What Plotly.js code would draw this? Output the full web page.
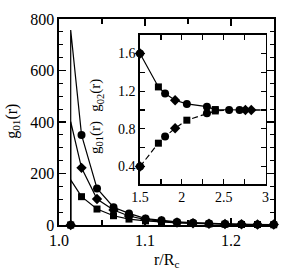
<!DOCTYPE html>
<html><head><meta charset="utf-8">
<script src="https://cdn.plot.ly/plotly-3.0.1.min.js"></script>
<style>html,body{margin:0;padding:0;background:#fff}#c{width:282px;height:274px}</style>
</head><body><div id="c"></div>
<script>
// Main panel: r/Rc positions and g01(r) for the three systems
const r_pts = [1.0136, 1.0262, 1.0442, 1.0634, 1.0814, 1.1006, 1.1192, 1.1372, 1.1558, 1.1744, 1.193, 1.2122, 1.2308, 1.2497];
const g_circle  = [0, 350, 142, 69, 45, 25, 18, 12, 9, 6, 4, 3, 2, 2];
const g_diamond = [0, 222, 101, 58, 35, 21, 15, 10, 7, 5, 4, 3, 2, 2];
const g_square  = [0, 110, 62, 36, 23, 16, 11, 8, 6, 4, 3, 2, 2, 1];
// contact values of the theory curves
const peak_circle = 757, peak_diamond = 401, peak_square = 175;

// Inset: theory lines
const ins_r    = [1.5, 1.72, 1.80, 1.92, 2.06, 2.30, 2.40, 2.56, 2.68, 2.75, 2.83, 3.0];
const g02_line = [1.60, 1.245, 1.175, 1.104, 1.065, 1.035, 1.005, 1.0, 1.0, 1.0, 1.0, 1.0];
const g01_line = [0.40, 0.648, 0.718, 0.807, 0.892, 0.965, 0.99, 1.0, 1.0, 1.0, 1.0, 1.0];
// Inset: symbols
const circ_up_r = [1.5, 1.80, 2.06, 2.30, 2.565, 2.69], circ_up_g = [1.60, 1.175, 1.065, 1.035, 1.0, 1.0];
const circ_lo_r = [1.5, 1.80, 2.30], circ_lo_g = [0.40, 0.718, 0.965];
const diam_up_r = [1.5, 1.92, 2.76, 2.83], diam_up_g = [1.60, 1.104, 1.0, 1.0];
const diam_lo_r = [1.5, 1.92], diam_lo_g = [0.40, 0.807];
const sq_up_r = [1.72, 2.40], sq_up_g = [1.245, 1.005];
const sq_lo_r = [1.72, 2.06, 2.40], sq_lo_g = [0.648, 0.892, 0.99];

const xTicksMain = [1.0, 1.1, 1.2], xTickTextMain = ['1.0', '1.1', '1.2'];
const yTicksMain = [0, 200, 400, 600, 800], yTickTextMain = ['0', '200', '400', '600', '800'];
const xTicksIns = [1.5, 2, 2.5, 3], xTickTextIns = ['1.5', '2', '2.5', '3'];
const yTicksIns = [0.4, 0.8, 1.2, 1.6], yTickTextIns = ['0.4', '0.8', '1.2', '1.6'];

const F = 'Times New Roman';
const FA = 'Liberation Serif';
const lineR = [r_pts[0], r_pts[0]].concat(r_pts.slice(1));
function theory(vals, peak){ return [0, peak].concat(vals.slice(1)); }
const lw = 1.2;
const traces = [];
traces.push({x: lineR, y: theory(g_square, peak_square), mode:'lines', line:{color:'#000', width:lw}, xaxis:'x', yaxis:'y', cliponaxis:false});
traces.push({x: lineR, y: theory(g_diamond, peak_diamond), mode:'lines', line:{color:'#000', width:lw}, xaxis:'x', yaxis:'y', cliponaxis:false});
traces.push({x: lineR, y: theory(g_circle, peak_circle), mode:'lines', line:{color:'#000', width:lw}, xaxis:'x', yaxis:'y', cliponaxis:false});
traces.push({x: r_pts, y: g_square, mode:'markers', marker:{symbol:'square', size:7, color:'#000'}, xaxis:'x', yaxis:'y', cliponaxis:false});
traces.push({x: r_pts, y: g_diamond, mode:'markers', marker:{symbol:'diamond', size:8, color:'#000'}, xaxis:'x', yaxis:'y', cliponaxis:false});
traces.push({x: r_pts, y: g_circle, mode:'markers', marker:{symbol:'circle', size:8, color:'#000'}, xaxis:'x', yaxis:'y', cliponaxis:false});

traces.push({x: ins_r, y: g02_line, mode:'lines', line:{color:'#000', width:lw}, xaxis:'x2', yaxis:'y2', cliponaxis:false});
traces.push({x: ins_r, y: g01_line, mode:'lines', line:{color:'#000', width:lw, dash:'6px,3px'}, xaxis:'x2', yaxis:'y2', cliponaxis:false});
const mk = (x, y, s, sz) => ({x, y, mode:'markers', marker:{symbol:s, size:sz, color:'#000'}, xaxis:'x2', yaxis:'y2', cliponaxis:false});
traces.push(mk(sq_up_r, sq_up_g, 'square', 7));
traces.push(mk(sq_lo_r, sq_lo_g, 'square', 7));
traces.push(mk(diam_up_r, diam_up_g, 'diamond', 8));
traces.push(mk(diam_lo_r, diam_lo_g, 'diamond', 8));
traces.push(mk(circ_up_r, circ_up_g, 'circle', 8));
traces.push(mk(circ_lo_r, circ_lo_g, 'circle', 8));

function ax(extra, fsize){
  return Object.assign({showgrid:false, zeroline:false, showline:true, linecolor:'#000', linewidth:1.6, mirror:'ticks', ticks:'inside', tickcolor:'#000', tickwidth:1.2, tickmode:'array', tickfont:{family:F, size:fsize, color:'#000'}}, extra);
}
const layout = {
  width:282, height:274, showlegend:false,
  font:{family:F, color:'#000', size:16},
  margin:{l:59, r:8, t:19, b:49},
  paper_bgcolor:'#fff', plot_bgcolor:'#fff',
  xaxis: ax({range:[1.0, 1.25], tickvals:xTicksMain, ticktext:xTickTextMain, ticklen:7, minor:{dtick:0.05, ticklen:5, tickcolor:'#000', tickwidth:1.2, ticks:'inside'}}, 16),
  yaxis: ax({range:[0, 800], tickvals:yTicksMain, ticktext:yTickTextMain, ticklen:7, minor:{dtick:50, ticklen:4, tickcolor:'#000', tickwidth:1.2, ticks:'inside'}}, 16),
  xaxis2: ax({domain:[0.3767, 0.9605], anchor:'y2', range:[1.5, 3], tickvals:xTicksIns, ticktext:xTickTextIns, ticklen:5, minor:{dtick:0.25, ticklen:5, tickcolor:'#000', tickwidth:1.2, ticks:'inside'}}, 14),
  yaxis2: ax({domain:[0.199, 0.922], anchor:'x2', range:[0.215, 1.795], tickvals:yTicksIns, ticktext:yTickTextIns, ticklen:5, minor:{dtick:0.2, ticklen:5, tickcolor:'#000', tickwidth:1.2, ticks:'inside'}}, 14),
  annotations:[
    {text:'g<sub>01</sub>(r)', xref:'paper', yref:'paper', x:-0.215, y:0.505, xanchor:'center', yanchor:'middle', textangle:-90, showarrow:false, font:{family:FA, size:16, color:'#000'}},
    {text:'r/R<sub>c</sub>', xref:'paper', yref:'paper', x:0.5, y:-0.17, xanchor:'center', yanchor:'middle', showarrow:false, font:{family:FA, size:16, color:'#000'}},
    {text:'g<sub>02</sub>(r)', xref:'paper', yref:'paper', x:0.175, y:0.63, xanchor:'center', yanchor:'middle', textangle:-90, showarrow:false, font:{family:FA, size:15, color:'#000'}},
    {text:'g<sub>01</sub>(r)', xref:'paper', yref:'paper', x:0.175, y:0.425, xanchor:'center', yanchor:'middle', textangle:-90, showarrow:false, font:{family:FA, size:15, color:'#000'}}
  ]
};
Plotly.newPlot('c', traces, layout, {staticPlot:true, displayModeBar:false}).then(function(gd){
  gd.querySelectorAll('.xtick text, .ytick text, .x2tick text, .y2tick text').forEach(function(t){
    t.style.setProperty('font-family', "'Liberation Serif', serif", 'important');
  });
});
</script></body></html>
